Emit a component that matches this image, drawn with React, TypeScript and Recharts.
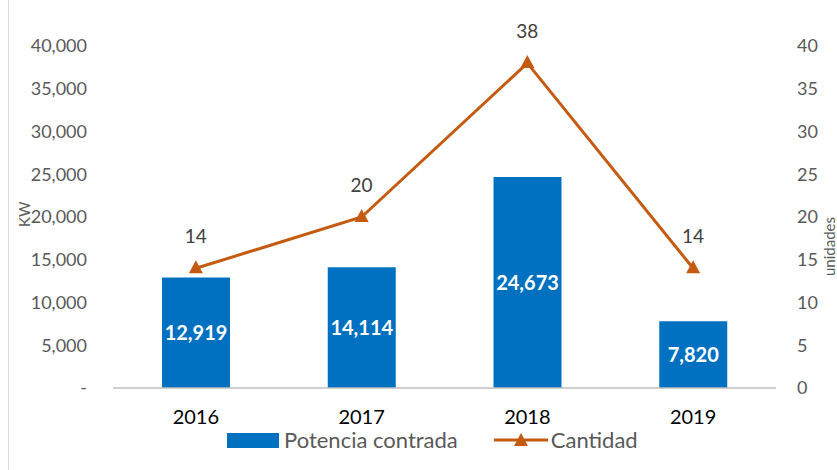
import {
  ComposedChart,
  Bar,
  Line,
  XAxis,
  YAxis,
  LabelList,
  Legend,
  Label,
} from "recharts";

const years = ["2016", "2017", "2018", "2019"];
const potencia = [12919, 14114, 24673, 7820];
const cantidad = [14, 20, 38, 14];
const leftTicks = [0, 5000, 10000, 15000, 20000, 25000, 30000, 35000, 40000];
const rightTicks = [0, 5, 10, 15, 20, 25, 30, 35, 40];

const data = years.map((year, i) => ({
  year,
  potencia: potencia[i],
  cantidad: cantidad[i],
}));

const BLUE = "#0070C0";
const ORANGE = "#C55A11";
const FONT = "Lato, 'Open Sans', sans-serif";

const Triangle = (props: any) => {
  const { cx, cy } = props;
  if (cx == null || cy == null) return null;
  return (
    <path
      d={`M${cx},${cy - 8} L${cx + 7},${cy + 5} L${cx - 7},${cy + 5} Z`}
      fill={ORANGE}
    />
  );
};

const renderLegend = () => (
  <div
    style={{
      display: "flex",
      justifyContent: "flex-start",
      alignItems: "center",
      fontFamily: FONT,
      fontSize: 22,
      lineHeight: "22px",
      color: "#595959",
      gap: 36,
      paddingLeft: 227,
    }}
  >
    <div style={{ display: "flex", alignItems: "center", gap: 5 }}>
      <span style={{ width: 52, height: 15, background: BLUE, display: "inline-block" }} />
      Potencia contrada
    </div>
    <div style={{ display: "flex", alignItems: "center", gap: 3 }}>
      <svg width={54} height={16}>
        <line x1={0} y1={8} x2={54} y2={8} stroke={ORANGE} strokeWidth={3} />
        <path d="M27,1 L34,14 L20,14 Z" fill={ORANGE} />
      </svg>
      Cantidad
    </div>
  </div>
);

export default function App() {
  return (
    <div
      style={{
        position: "absolute",
        left: 0,
        top: 0,
        width: 837,
        height: 470,
        background: "#fff",
      }}
    >
      <div
        style={{
          position: "absolute",
          left: 8,
          top: 0,
          width: 1,
          height: 470,
          background: "#d9d9d9",
        }}
      />
      <ComposedChart
        width={837}
        height={470}
        data={data}
        margin={{ top: 46, right: 11, bottom: 30, left: 23 }}
        style={{ fontFamily: FONT }}
      >
        <XAxis
          dataKey="year"
          tickLine={false}
          axisLine={{ stroke: "#bfbfbf", strokeWidth: 1.5 }}
          tick={{ fill: "#000", fontSize: 20, fontWeight: 400 }}
          tickMargin={16}
          height={30}
        />
        <YAxis
          yAxisId="left"
          domain={[0, 40000]}
          ticks={leftTicks}
          axisLine={false}
          tickLine={false}
          width={90}
          tick={{ fill: "#595959", fontSize: 18 }}
          tickMargin={20}
          tickFormatter={(v: number) => (v === 0 ? "-" : v.toLocaleString("en-US"))}
        >
          <Label
            value="KW"
            angle={-90}
            position="insideLeft"
            offset={2}
            dy={10}
            style={{ fill: "#595959", fontSize: 15 }}
          />
        </YAxis>
        <YAxis
          yAxisId="right"
          orientation="right"
          domain={[0, 40]}
          ticks={rightTicks}
          axisLine={false}
          tickLine={false}
          width={50}
          tick={{ fill: "#595959", fontSize: 18, textAnchor: "start" }}
          tickMargin={15}
        >
          <Label
            value="unidades"
            angle={-90}
            position="insideRight"
            offset={-4}
            style={{ fill: "#595959", fontSize: 15 }}
          />
        </YAxis>
        <Bar
          yAxisId="left"
          dataKey="potencia"
          name="Potencia contrada"
          fill={BLUE}
          barSize={68}
          isAnimationActive={false}
        >
          <LabelList
            dataKey="potencia"
            position="center"
            formatter={(v: any) => Number(v).toLocaleString("en-US")}
            style={{ fill: "#fff", fontSize: 20, fontWeight: 700 }}
          />
        </Bar>
        <Line
          yAxisId="right"
          dataKey="cantidad"
          name="Cantidad"
          stroke={ORANGE}
          strokeWidth={3}
          dot={<Triangle />}
          activeDot={false}
          isAnimationActive={false}
        >
          <LabelList
            dataKey="cantidad"
            position="top"
            offset={25}
            style={{ fill: "#404040", fontSize: 19 }}
          />
        </Line>
        <Legend
          content={renderLegend}
          wrapperStyle={{ position: "absolute", top: 429, left: 0, width: 837 }}
        />
      </ComposedChart>
    </div>
  );
}
